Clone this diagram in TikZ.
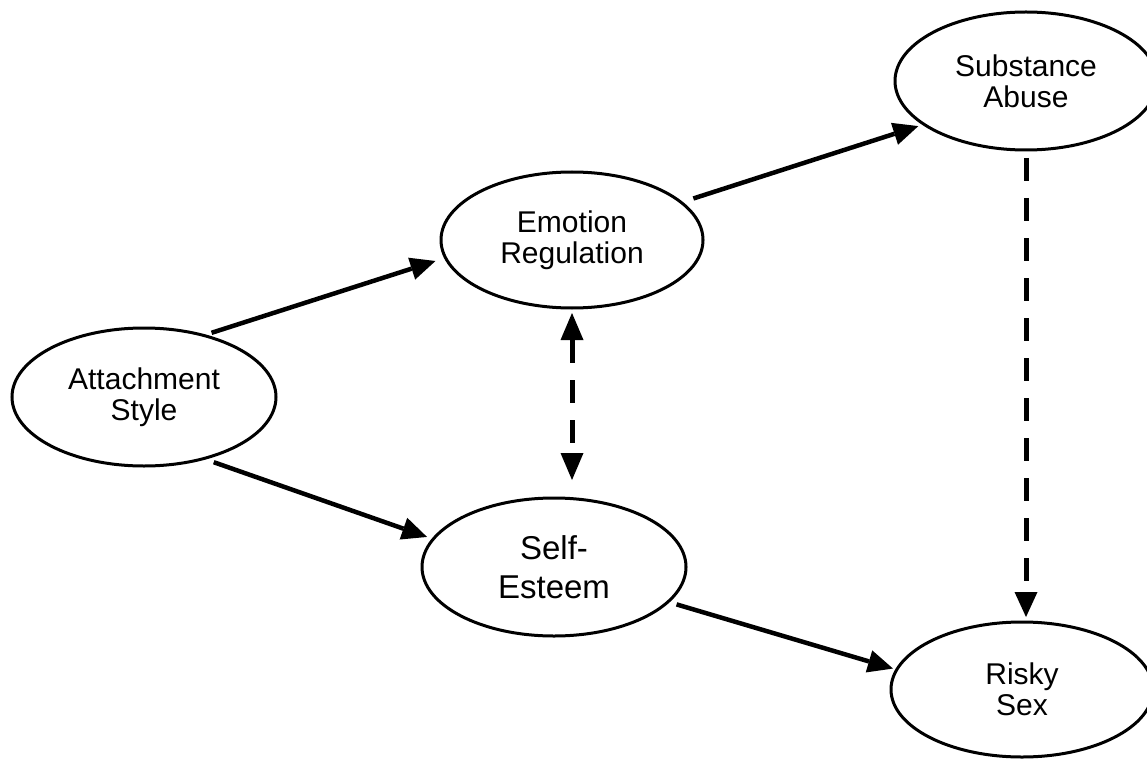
\documentclass[tikz,border=0pt]{standalone}
\usepackage{fontspec}
\setmainfont{Liberation Sans}
\usetikzlibrary{arrows.meta,shapes.geometric}
\begin{document}
\begin{tikzpicture}[x=1pt,y=-1pt,
  construct/.style={ellipse, draw, line width=3pt, inner sep=0pt, outer sep=0pt,
    minimum width=264pt, minimum height=138pt, align=center,
    font=\fontsize{30}{31}\selectfont},
  effect/.style={line width=4.5pt, -{Triangle[length=25pt,width=23pt,line width=0pt]}},
  dashedlink/.style={line width=5pt, dash pattern=on 23pt off 17pt},
]
\useasboundingbox (0,0) rectangle (1147,759);

% constructs
\node[construct] (att) at (144,397) {Attachment\\Style};
\node[construct, minimum width=262pt, minimum height=136pt] (emo) at (572,240) {Emotion\\Regulation};
\node[construct, font=\fontsize{33}{39}\selectfont] (se) at (554,567) {Self-\\Esteem};
\node[construct, minimum width=262pt] (sub) at (1026,81) {Substance\\Abuse};
\node[construct, minimum width=262pt, minimum height=135pt] (risky) at (1022,689.5) {Risky\\Sex};

% marker on the self-esteem border straight below emotion regulation
\coordinate (setop) at (emo.south |- se.north);

% direct paths
\draw[effect, shorten <=8.5pt, shorten >=10.6pt] (att.46) -- (emo.188);
\draw[effect, shorten <=10.9pt, shorten >=6.6pt] (att.314) -- (se.167);
\draw[effect, shorten <=12.8pt, shorten >=6pt] (emo.19) -- (sub.203);
\draw[effect, shorten <=9pt, shorten >=4pt] (se.343) -- (risky.171);

% dashed links
\draw[dashedlink, {Triangle[length=27pt,width=23pt,line width=0pt]}-{Triangle[length=27pt,width=23pt,line width=0pt]},
  shorten <=5pt, shorten >=18pt] (emo.south) -- (setop);
\draw[dashedlink, -{Triangle[length=25pt,width=23pt,line width=0pt]},
  shorten <=8pt, shorten >=5pt] (sub.south) -- (sub.south |- risky.north);
\end{tikzpicture}
\end{document}
